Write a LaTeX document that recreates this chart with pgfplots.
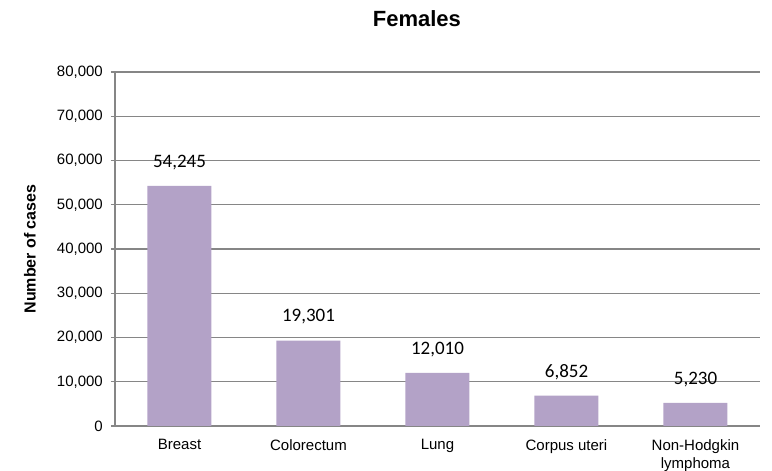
\documentclass[border=0pt]{standalone}
\usepackage{pgfplots}
\pgfplotsset{compat=1.18}
\usepackage{fontspec}
\setmainfont{Liberation Sans}
\newfontfamily\calibri{Carlito}
\definecolor{barc}{HTML}{B3A2C7}
\definecolor{gridc}{HTML}{868686}
\begin{document}
\begin{tikzpicture}
\path[use as bounding box] (-115pt,-45pt) rectangle (657pt,426pt);
\begin{axis}[
  at={(0,0)}, anchor=south west,
  width=645pt, height=354pt, scale only axis,
  xmin=-0.5, xmax=4.5, ymin=0, ymax=80000,
  ybar, bar width=64pt,
  xtick={0,1,2,3,4},
  xticklabels={Breast,Colorectum,Lung,Corpus uteri,{Non-Hodgkin\\lymphoma}},
  xticklabel style={align=center, font=\fontsize{15}{18}\selectfont, inner sep=0pt, yshift=-9pt},
  xtick style={draw=none},
  ytick={0,10000,20000,30000,40000,50000,60000,70000,80000},
  yticklabel style={font=\fontsize{15}{17}\selectfont, inner sep=0pt, xshift=-8pt},
  scaled y ticks=false,
  /pgf/number format/.cd, fixed, 1000 sep={,}, assume math mode=true,
  /pgfplots/.cd,
  ymajorgrids, grid style={gridc, line width=1.2pt},
  axis x line*=bottom, axis y line*=left,
  axis line style={gridc, line width=1.2pt},
  y axis line style={-},
  x axis line style={-},
  ytick style={gridc, line width=1.2pt},
  tick align=outside, major tick length=4pt,
  nodes near coords,
  every node near coord/.append style={font=\calibri\fontsize{19}{21}\selectfont, black, anchor=south, inner sep=0pt, yshift=16pt},
  ylabel={Number of cases},
  ylabel style={font=\bfseries\fontsize{16}{18}\selectfont, at={(axis description cs:-0.1318,0.5)}, anchor=center, rotate=0},
  title={Females},
  title style={font=\bfseries\fontsize{22}{24}\selectfont, at={(axis description cs:0.468,1.133)}, anchor=center},
]
\addplot[fill=barc, draw=none] coordinates {(0,54245) (1,19301) (2,12010) (3,6852) (4,5230)};
\end{axis}
\end{tikzpicture}
\end{document}
